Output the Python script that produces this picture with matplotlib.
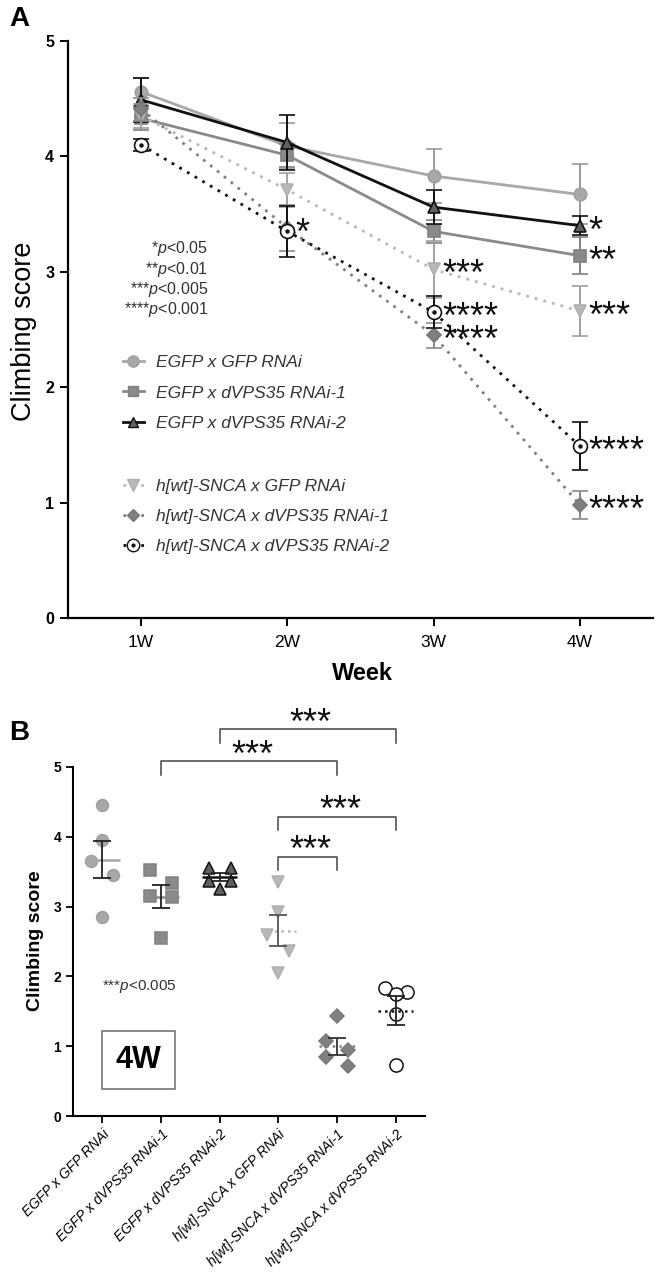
import numpy as np
import matplotlib
matplotlib.use('Agg')
import matplotlib.pyplot as plt
from matplotlib.lines import Line2D

plt.rcParams['font.family'] = ['Liberation Sans', 'DejaVu Sans']
plt.rcParams['mathtext.fontset'] = 'custom'
plt.rcParams['mathtext.rm'] = 'Liberation Sans'
plt.rcParams['mathtext.it'] = 'Liberation Sans:italic'

# ---------------------------------------------------------------- data
weeks = ['1W', '2W', '3W', '4W']
groups = ['EGFP x GFP RNAi', 'EGFP x dVPS35 RNAi-1', 'EGFP x dVPS35 RNAi-2',
          'h[wt]-SNCA x GFP RNAi', 'h[wt]-SNCA x dVPS35 RNAi-1', 'h[wt]-SNCA x dVPS35 RNAi-2']

# panel A: mean climbing score per week and its error
egfp_gfp = [4.56, 4.09, 3.83, 3.67]
egfp_vps1 = [4.33, 4.01, 3.35, 3.14]
egfp_vps2 = [4.49, 4.12, 3.56, 3.40]
snca_gfp = [4.35, 3.71, 3.02, 2.66]
snca_vps1 = [4.41, 3.38, 2.45, 0.98]
snca_vps2 = [4.10, 3.35, 2.65, 1.49]

egfp_gfp_err = [0.12, 0.20, 0.23, 0.26]
egfp_vps1_err = [0.10, 0.10, 0.10, 0.16]
egfp_vps2_err = [0.19, 0.24, 0.15, 0.08]
snca_gfp_err = [0.10, 0.15, 0.25, 0.22]
snca_vps1_err = [0.10, 0.20, 0.11, 0.12]
snca_vps2_err = [0.05, 0.22, 0.14, 0.21]

# significance marks in A: (group index, week index, stars)
sig_a = [(4, 1, '*'),
         (3, 2, '***'), (5, 2, '****'), (4, 2, '****'),
         (2, 3, '*'), (1, 3, '**'), (3, 3, '***'), (5, 3, '****'), (4, 3, '****')]

p_stars = ['*', '**', '***', '****']
p_values = ['0.05', '0.01', '0.005', '0.001']

# panel B: individual scores at 4W
b_egfp_gfp = [4.45, 3.96, 3.65, 3.45, 2.85]
b_egfp_vps1 = [3.52, 3.34, 3.15, 3.14, 2.55]
b_egfp_vps2 = [3.55, 3.55, 3.37, 3.37, 3.25]
b_snca_gfp = [3.35, 2.92, 2.60, 2.36, 2.05]
b_snca_vps1 = [1.43, 1.07, 0.94, 0.84, 0.71]
b_snca_vps2 = [1.84, 1.77, 1.75, 1.46, 0.73]

# comparisons in B: (group a, group b)
comparisons = [(1, 4), (2, 5), (3, 5), (3, 4)]

# ---------------------------------------------------------------- styles
styles = [
    dict(color='#a8a8a8', marker='o', mfc='#a8a8a8', mec='#a0a0a0', ms=9, ls='-', ecolor='#9a9a9a'),
    dict(color='#8a8a8a', marker='s', mfc='#8a8a8a', mec='#808080', ms=8.5, ls='-', ecolor='#808080'),
    dict(color='#111111', marker='^', mfc='#606060', mec='#111111', ms=8.5, ls='-', ecolor='#111111'),
    dict(color='#b8b8b8', marker='v', mfc='#b8b8b8', mec='#b0b0b0', ms=9, ls=(0, (1, 2.2)), ecolor='#a0a0a0'),
    dict(color='#808080', marker='D', mfc='#808080', mec='#787878', ms=7, ls=(0, (1, 2.2)), ecolor='#8a8a8a'),
    dict(color='#111111', marker='o', mfc='white', mec='#111111', ms=10, ls=(0, (1, 2.2)), ecolor='#111111'),
]
mean_ls_b = ['-', '-', '-', ':', ':', ':']
bar_col_b = ['#222222', '#222222', '#222222', '#555555', '#333333', '#222222']

fig = plt.figure(figsize=(6.57, 12.81), dpi=100)
W, H = 657.0, 1281.0


def px_axes(left, top, right, bottom):
    return fig.add_axes([left / W, 1 - bottom / H, (right - left) / W, (bottom - top) / H])


# ---------------------------------------------------------------- panel A
ax = px_axes(68, 41, 653, 618)
means_a = [egfp_gfp, egfp_vps1, egfp_vps2, snca_gfp, snca_vps1, snca_vps2]
errs_a = [egfp_gfp_err, egfp_vps1_err, egfp_vps2_err, snca_gfp_err, snca_vps1_err, snca_vps2_err]
xw = np.arange(1, len(weeks) + 1)

draw_order = [4, 5, 3, 1, 0, 2]
for i in draw_order:
    st = styles[i]
    ax.errorbar(xw, means_a[i], yerr=errs_a[i], color=st['color'], ls=st['ls'], lw=2,
                marker=st['marker'], ms=st['ms'], mfc=st['mfc'], mec=st['mec'], mew=1.2,
                ecolor=st['ecolor'], elinewidth=1.4, capsize=5.5, capthick=1.4, zorder=3 + i)
ax.plot(xw, snca_vps2, ls='none', marker='o', ms=2.2, color='#111111', zorder=10)

fs_star = 26
for gi, wi, s in sig_a:
    ax.annotate(s, (xw[wi], means_a[gi][wi]), xytext=(6, -0.44 * fs_star), textcoords='offset points',
                fontsize=fs_star, ha='left', va='baseline', color='#111111', zorder=12)

for k, (s, p) in enumerate(zip(p_stars, p_values)):
    ax.text(1.46, 3.20 - 0.176 * k, s + r'$p$' + '<' + p, fontsize=11.5, ha='right', va='center',
            color='#333333')

handles = []
for i in range(len(groups)):
    st = styles[i]
    h = Line2D([], [], color=st['color'], ls=st['ls'], lw=2, marker=st['marker'], ms=st['ms'] * 0.9,
               mfc=st['mfc'], mec=st['mec'])
    if i == 5:
        h = (h, Line2D([], [], ls='none', marker='o', ms=2, color='#111111'))
    handles.append(h)

leg_kw = dict(frameon=False, handlelength=1.2, handletextpad=0.7, labelspacing=0.88,
              borderpad=0, borderaxespad=0, loc='center left', prop={'style': 'italic', 'size': 12.5})
leg1 = ax.legend(handles[:3], groups[:3], bbox_to_anchor=(0.094, 0.390), **leg_kw)
for t in leg1.get_texts():
    t.set_color('#333333')
ax.add_artist(leg1)
leg2 = ax.legend(handles[3:], groups[3:], bbox_to_anchor=(0.094, 0.176), **leg_kw)
for t in leg2.get_texts():
    t.set_color('#333333')

ax.set_xlim(0.5, 4.5)
ax.set_ylim(0, 5)
ax.set_xticks(xw)
ax.set_xticklabels(weeks, fontsize=12.5)
ax.set_yticks(range(6))
ax.set_yticklabels([str(v) for v in range(6)], fontsize=11.5, fontweight='bold')
for sp in ['top', 'right']:
    ax.spines[sp].set_visible(False)
for sp in ['left', 'bottom']:
    ax.spines[sp].set_linewidth(1.6)
ax.tick_params(axis='both', width=1.4, length=6)
ax.tick_params(axis='x', pad=6)
ax.tick_params(axis='y', pad=4)
fig.text(24 / W, 1 - 331 / H, 'Climbing score', rotation=90, fontsize=19.5, ha='center', va='center')
fig.text(362 / W, 1 - 673 / H, 'Week', fontsize=17, fontweight='bold', ha='center', va='center')
fig.text(19 / W, 1 - 19 / H, 'A', fontsize=20, fontweight='bold', ha='center', va='center')

# ---------------------------------------------------------------- panel B
bx = px_axes(73, 767, 425, 1116)
vals_b = [b_egfp_gfp, b_egfp_vps1, b_egfp_vps2, b_snca_gfp, b_snca_vps1, b_snca_vps2]


def swarm_offsets(vals, step=0.19, thr=0.25):
    v = np.asarray(vals)
    order = np.argsort(v)[::-1]
    offs = np.zeros(len(v))
    k = 0
    while k < len(order):
        if k + 1 < len(order) and v[order[k]] - v[order[k + 1]] < thr:
            offs[order[k]] = -step
            offs[order[k + 1]] = step
            k += 2
        else:
            k += 1
    return offs


xg = np.arange(1, len(groups) + 1)
for i, vals in enumerate(vals_b):
    st = styles[i]
    v = np.asarray(vals)
    xs = xg[i] + swarm_offsets(v)
    bx.plot(xs, v, ls='none', marker=st['marker'], ms=st['ms'] * 0.95, mfc=st['mfc'], mec=st['mec'],
            mew=1.1, zorder=3)
    m = v.mean()
    sem = v.std(ddof=1) / np.sqrt(len(v))
    bx.hlines(m, xg[i] - 0.3, xg[i] + 0.3, color=st['color'] if i != 5 else '#111111',
              ls=mean_ls_b[i], lw=1.8, zorder=4)
    bx.errorbar(xg[i], m, yerr=sem, fmt='none', ecolor=bar_col_b[i], elinewidth=1.3, capsize=6.5,
                capthick=1.3, zorder=5)

leg_h = 0.19
levels = [5.08, 5.54, 4.29, 3.71]
for (a, b), lv in zip(comparisons, levels):
    bx.plot([xg[a], xg[a], xg[b], xg[b]], [lv - leg_h, lv, lv, lv - leg_h], color='#444444', lw=1.1,
            clip_on=False)
    bx.annotate('***', ((xg[a] + xg[b]) / 2 + 0.05, lv), xytext=(0, -3.0), textcoords='offset points',
                fontsize=fs_star, ha='center', va='baseline', color='#111111', annotation_clip=False)

bx.text(1.0, 1.85, '***' + r'$p$' + '<0.005', fontsize=11, ha='left', va='center', color='#333333')
bx.text(1.62, 0.80, '4W', fontsize=22, fontweight='bold', ha='center', va='center',
        bbox=dict(boxstyle='square,pad=0.45', fc='white', ec='#777777', lw=1.2))

bx.set_xlim(0.5, 6.5)
bx.set_ylim(0, 5)
bx.set_xticks(xg)
bx.set_xticklabels(groups, rotation=45, ha='right', rotation_mode='anchor', fontsize=10, style='italic')
bx.set_yticks(range(6))
bx.set_yticklabels([str(v) for v in range(6)], fontsize=10, fontweight='bold')
for sp in ['top', 'right']:
    bx.spines[sp].set_visible(False)
for sp in ['left', 'bottom']:
    bx.spines[sp].set_linewidth(1.5)
bx.tick_params(axis='both', width=1.3, length=5)
bx.tick_params(axis='x', pad=3)
fig.text(35 / W, 1 - 941 / H, 'Climbing score', rotation=90, fontsize=14, fontweight='bold',
         ha='center', va='center')
fig.text(19 / W, 1 - 733 / H, 'B', fontsize=20, fontweight='bold', ha='center', va='center')

fig.savefig('out.png', dpi=100)
